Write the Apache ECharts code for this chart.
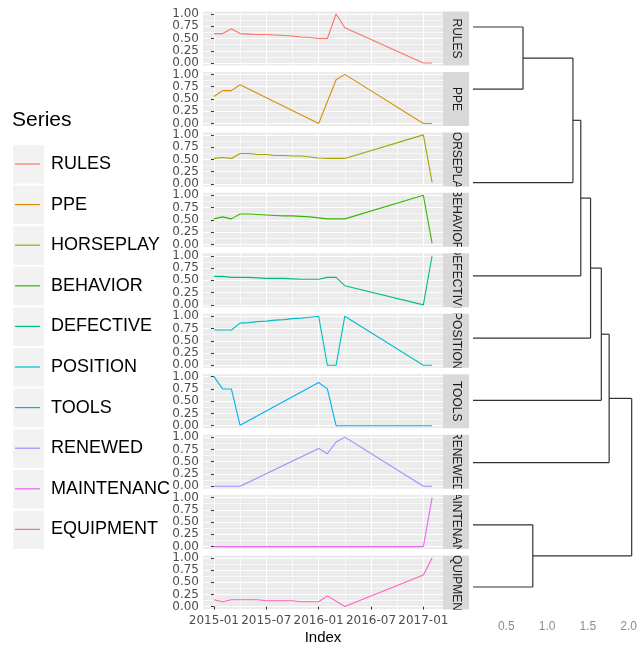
<!DOCTYPE html>
<html>
<head>
<meta charset="utf-8">
<script src="https://cdn.jsdelivr.net/npm/echarts@6/dist/echarts.min.js"></script>
<style>
  html, body { margin: 0; padding: 0; background: #fff; }
  #chart { width: 640px; height: 646px; }
</style>
</head>
<body>
<div id="chart"></div>
<script>
// categories / series
const seriesNames = ['RULES', 'PPE', 'HORSEPLAY', 'BEHAVIOR', 'DEFECTIVE', 'POSITION', 'TOOLS', 'RENEWED', 'MAINTENANC', 'EQUIPMENT'];
const colors = ['#F8766D', '#D89000', '#A3A500', '#39B600', '#00BF7D', '#00BFC4', '#00B0F6', '#9590FF', '#E76BF3', '#FF62BC'];
const dates = ['2015-01', '2015-02', '2015-03', '2015-04', '2015-05', '2015-06', '2015-07', '2015-08', '2015-09',
  '2015-10', '2015-11', '2015-12', '2016-01', '2016-02', '2016-03', '2016-04', '2017-01', '2017-02'];

const rules      = [0.60, 0.60, 0.70, 0.60, 0.59, 0.58, 0.58, 0.57, 0.56, 0.55, 0.53, 0.52, 0.50, 0.50, 1.00, 0.72, 0.00, 0.00];
const ppe        = [0.55, 0.67, 0.67, 0.79, null, null, null, null, null, null, null, null, 0.00, null, 0.89, 1.00, 0.00, 0.00];
const horseplay  = [0.52, 0.54, 0.52, 0.62, 0.62, 0.60, 0.60, 0.58, 0.58, 0.57, 0.57, 0.55, 0.53, 0.52, 0.52, 0.52, 1.00, 0.03];
const behavior   = [0.52, 0.56, 0.52, 0.62, 0.62, 0.61, 0.60, 0.59, 0.58, 0.58, 0.57, 0.56, 0.54, 0.52, 0.52, 0.52, 1.00, 0.02];
const defective  = [0.58, 0.58, 0.56, 0.56, 0.56, 0.55, 0.54, 0.54, 0.54, 0.53, 0.52, 0.52, 0.52, 0.56, 0.56, 0.39, 0.00, 1.00];
const position   = [0.72, 0.72, 0.72, 0.86, 0.87, 0.89, 0.90, 0.92, 0.93, 0.95, 0.96, 0.98, 1.00, 0.00, 0.00, 1.00, 0.00, 0.00];
const tools      = [1.00, 0.75, 0.75, 0.01, null, null, null, null, null, null, null, null, 0.88, 0.75, 0.00, 0.00, 0.00, 0.00];
const renewed    = [0.00, 0.00, 0.00, 0.00, null, null, null, null, null, null, null, null, 0.77, 0.66, 0.90, 1.00, 0.00, 0.00];
const maintenanc = [0.00, 0.00, 0.00, 0.00, 0.00, 0.00, 0.00, 0.00, 0.00, 0.00, 0.00, 0.00, 0.00, 0.00, 0.00, 0.00, 0.00, 1.00];
const equipment  = [0.14, 0.10, 0.14, 0.14, 0.14, 0.14, 0.12, 0.12, 0.12, 0.12, 0.10, 0.10, 0.10, 0.22, null, 0.00, 0.65, 1.00];
const seriesValues = [rules, ppe, horseplay, behavior, defective, position, tools, renewed, maintenanc, equipment];

// tick labels
const xTicks = ['2015-01', '2015-07', '2016-01', '2016-07', '2017-01'];
const xMinorTicks = ['2015-04', '2015-10', '2016-04', '2016-10'];
const yTicks = [0, 0.25, 0.5, 0.75, 1];
const yMinorTicks = [0.125, 0.375, 0.625, 0.875];
const dendroTicks = [0.5, 1.0, 1.5, 2.0];

// dendrogram (hclust style merge table: negative = leaf number, positive = earlier merge)
const mergeA = [-3, -1, -9, 2, 4, 5, 6, 7, 8];
const mergeB = [-4, -2, -10, 1, -5, -6, -7, -8, 3];
const mergeHeight = [0.02, 0.705, 0.825, 1.317, 1.413, 1.533, 1.665, 1.761, 2.037];

// ---- helpers
const monthIdx = d => { const p = d.split('-').map(Number); return (p[0] - 2015) * 12 + (p[1] - 1); };
const monthLabel = v => {
  v = Math.round(v);
  const y = 2015 + Math.floor(v / 12);
  const m = v - (y - 2015) * 12 + 1;
  return y + '-' + String(m).padStart(2, '0');
};

const firstM = monthIdx(dates[0]);
const lastM = monthIdx(dates[dates.length - 1]);
const xPad = (lastM - firstM) * 0.05;
const xMin = firstM - xPad, xMax = lastM + xPad;

const PANEL_LEFT = 203, PANEL_W = 240, PANEL_H = 54, PANEL_STEP = 60.45, PANEL_TOP = 11.5;
const STRIP_W = 26;
const tickFont = 'DejaVu Sans';

const grid = [], xAxis = [], yAxis = [], series = [];
const n = seriesNames.length;

seriesNames.forEach((name, i) => {
  const top = PANEL_TOP + PANEL_STEP * i;
  const last = i === n - 1;
  grid.push({ left: PANEL_LEFT, top: top, width: PANEL_W, height: PANEL_H, show: true, backgroundColor: '#EBEBEB', borderWidth: 0 });
  // major x
  xAxis.push({
    gridIndex: i, type: 'value', min: xMin, max: xMax,
    name: last ? 'Index' : '', nameLocation: 'middle', nameGap: 21,
    nameTextStyle: { fontSize: 15, color: '#000', fontFamily: 'Liberation Sans' },
    axisLine: { show: false },
    axisTick: { show: last, customValues: xTicks.map(monthIdx), length: 3, lineStyle: { color: '#333' } },
    axisLabel: { show: last, customValues: xTicks.map(monthIdx), formatter: monthLabel, margin: 6,
      color: '#4D4D4D', fontSize: 12, fontFamily: tickFont },
    splitLine: { show: true, lineStyle: { color: '#fff', width: 1.1 } }
  });
  // minor x
  xAxis.push({
    gridIndex: i, type: 'value', min: xMin, max: xMax,
    axisLine: { show: false }, axisLabel: { show: false },
    axisTick: { show: false, customValues: xMinorTicks.map(monthIdx) },
    splitLine: { show: true, lineStyle: { color: '#fff', width: 0.6 } }
  });
  yAxis.push({
    gridIndex: i, type: 'value', min: -0.05, max: 1.05,
    axisLine: { show: false },
    axisTick: { show: true, customValues: yTicks, length: 3, lineStyle: { color: '#333' } },
    axisLabel: { customValues: yTicks, formatter: v => v.toFixed(2), margin: 4,
      color: '#4D4D4D', fontSize: 12, fontFamily: tickFont },
    splitLine: { show: true, lineStyle: { color: '#fff', width: 1.1 } }
  });
  yAxis.push({
    gridIndex: i, type: 'value', min: -0.05, max: 1.05,
    axisLine: { show: false }, axisLabel: { show: false },
    axisTick: { show: false, customValues: yMinorTicks },
    splitLine: { show: true, lineStyle: { color: '#fff', width: 0.6 } }
  });
  const data = [];
  seriesValues[i].forEach((v, k) => { if (v !== null) data.push([monthIdx(dates[k]), v]); });
  series.push({
    name: name, type: 'line', xAxisIndex: 2 * i, yAxisIndex: 2 * i,
    data: data, symbol: 'none', color: colors[i],
    lineStyle: { width: 1.1, color: colors[i] }, z: 3
  });
});

// strips (right side facet labels, clipped like ggplot)
seriesNames.forEach((name, i) => {
  const top = PANEL_TOP + PANEL_STEP * i;
  grid.push({ left: PANEL_LEFT + PANEL_W, top: top, width: STRIP_W, height: PANEL_H, show: true, backgroundColor: '#D9D9D9', borderWidth: 0 });
  xAxis.push({ gridIndex: n + i, type: 'value', min: 0, max: 1, show: false });
  yAxis.push({ gridIndex: n + i, type: 'value', min: 0, max: 1, show: false });
  series.push({
    type: 'custom', xAxisIndex: 2 * n + i, yAxisIndex: 2 * n + i, clip: true,
    data: [[0.5, 0.5]], silent: true,
    renderItem: (params, api) => {
      const c = api.coord([api.value(0), api.value(1)]);
      return {
        type: 'text', x: c[0], y: c[1], rotation: -Math.PI / 2,
        style: { text: name, align: 'center', verticalAlign: 'middle', fill: '#1A1A1A', font: '12px "Liberation Sans"' }
      };
    }
  });
});

// dendrogram segments computed from the merge table
const nodePos = [], nodeH = [];
const dendroSegs = [];
const child = c => c < 0 ? [-c - 1, 0] : [nodePos[c - 1], nodeH[c - 1]];
mergeHeight.forEach((h, k) => {
  const a = child(mergeA[k]), b = child(mergeB[k]);
  dendroSegs.push([a[1], a[0], h, a[0]]);
  dendroSegs.push([b[1], b[0], h, b[0]]);
  dendroSegs.push([h, a[0], h, b[0]]);
  nodePos.push((a[0] + b[0]) / 2);
  nodeH.push(h);
});

const DG = 2 * n; // dendrogram grid index
grid.push({ left: 473, right: 0, top: 2.1, height: 609.8 });
xAxis.push({
  gridIndex: DG, type: 'value', min: 0.092, max: 2.097,
  axisLine: { show: false }, axisTick: { show: false }, splitLine: { show: false },
  axisLabel: { customValues: dendroTicks, formatter: v => v.toFixed(1), margin: 9, color: '#8C8C8C', fontSize: 12, fontFamily: 'Liberation Sans' }
});
yAxis.push({ gridIndex: DG, type: 'value', min: -0.4, max: 9.4, inverse: true, show: false });
series.push({
  type: 'custom', xAxisIndex: DG + n, yAxisIndex: DG + n, clip: true, silent: true,
  data: dendroSegs,
  encode: { x: [0, 2], y: [1, 3] },
  renderItem: (params, api) => {
    const p1 = api.coord([api.value(0), api.value(1)]);
    const p2 = api.coord([api.value(2), api.value(3)]);
    return { type: 'line', shape: { x1: p1[0], y1: p1[1], x2: p2[0], y2: p2[1] }, style: { stroke: '#333', lineWidth: 1.2 } };
  }
});

// legend key backgrounds
const LEG_TOP = 145, LEG_STEP = 40.6, KEY_H = 38;
const keyBoxes = seriesNames.map((s, i) => ({
  type: 'rect', left: 13, top: LEG_TOP + LEG_STEP * i, z: 0,
  shape: { width: 31, height: 38.6 }, style: { fill: '#F2F2F2' }
}));

const chart = echarts.init(document.getElementById('chart'));
chart.setOption({
  animation: false,
  textStyle: { fontFamily: 'Liberation Sans' },
  title: { text: 'Series', left: 12, top: 110, padding: 0, textStyle: { fontSize: 21, fontWeight: 'normal', color: '#000' } },
  legend: {
    data: seriesNames, orient: 'vertical', left: 15, top: LEG_TOP, padding: 0,
    itemWidth: 25, itemHeight: KEY_H, itemGap: LEG_STEP - KEY_H, selectedMode: false,
    icon: 'path://M0,0H25V1.2H0Z', symbolKeepAspect: true,
    textStyle: { fontSize: 18, color: '#000', lineHeight: KEY_H, height: KEY_H, padding: [0, 0, 0, 6] }
  },
  graphic: { elements: keyBoxes },
  grid: grid, xAxis: xAxis, yAxis: yAxis, series: series
});
</script>
</body>
</html>
